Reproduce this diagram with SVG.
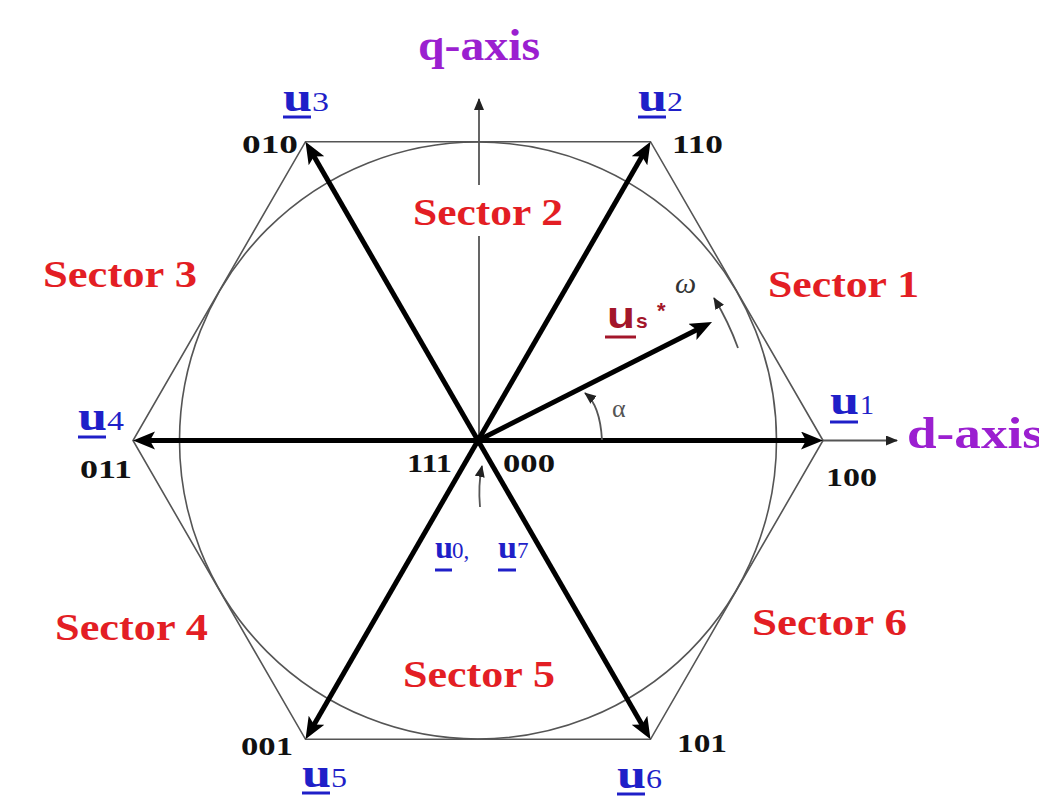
<svg xmlns="http://www.w3.org/2000/svg" width="1039" height="805" viewBox="0 0 1039 805">
<style>
.hex{fill:none;stroke:#555;stroke-width:1.6}
.thin{fill:none;stroke:#555;stroke-width:1.8}
.vec{stroke:#000;stroke-width:5;fill:none}
.code{font-family:"Liberation Serif",serif;font-weight:bold;font-size:26px;fill:#111}
.sec{font-family:"Liberation Serif",serif;font-weight:bold;font-size:38px;fill:#e31e24}
.ax{font-family:"Liberation Serif",serif;font-weight:bold;font-size:44px;fill:#9b1fd0}
.u{font-family:"Liberation Serif",serif;font-weight:bold;font-size:41px;fill:#1f1fc8}
.d{font-family:"Liberation Serif",serif;font-size:28px;fill:#1f1fc8}
.ul{stroke:#1f1fc8;stroke-width:3}
</style>
<defs>
<marker id="ah" markerUnits="userSpaceOnUse" markerWidth="30" markerHeight="20" refX="10" refY="9" orient="auto">
<path d="M0,0 L22,9 L0,18 L5,9 Z" fill="#000"/>
</marker>
<marker id="ahs" markerUnits="userSpaceOnUse" markerWidth="16" markerHeight="12" refX="11" refY="5" orient="auto">
<path d="M0,0 L12,5 L0,10 Z" fill="#222"/>
</marker>
</defs>
<rect width="1039" height="805" fill="#fff"/>

<g id="frame">
<polygon class="hex" points="823,440.5 650.5,141.7 305.5,141.7 133,440.5 305.5,739.3 650.5,739.3"/>
<circle class="hex" cx="478" cy="440.5" r="298.5"/>
</g>

<g id="connectors">
<line class="thin" x1="479" y1="440" x2="479" y2="236"/>
<line class="thin" x1="479" y1="185" x2="479" y2="99" marker-end="url(#ahs)"/>
<line class="thin" x1="823" y1="440.5" x2="897" y2="440.5" marker-end="url(#ahs)"/>
<line class="vec" x1="478" y1="440.5" x2="811" y2="440.5" marker-end="url(#ah)"/>
<line class="vec" x1="478" y1="440.5" x2="644.5" y2="152.1" marker-end="url(#ah)"/>
<line class="vec" x1="478" y1="440.5" x2="311.5" y2="152.1" marker-end="url(#ah)"/>
<line class="vec" x1="478" y1="440.5" x2="145" y2="440.5" marker-end="url(#ah)"/>
<line class="vec" x1="478" y1="440.5" x2="311.5" y2="728.9" marker-end="url(#ah)"/>
<line class="vec" x1="478" y1="440.5" x2="644.5" y2="728.9" marker-end="url(#ah)"/>
<line class="vec" x1="478" y1="440.5" x2="701.3" y2="327.4" marker-end="url(#ah)"/>
<circle cx="478" cy="440.5" r="5" fill="#000"/>
<path class="thin" d="M602,440 Q600,405 585,393" marker-end="url(#ahs)"/>
<path class="thin" d="M738,348 A276,276 0 0 0 714,298" marker-end="url(#ahs)"/>
<path class="thin" d="M480,507 Q478,485 482,466" marker-end="url(#ahs)"/>
</g>

<g id="axis-labels">
<text class="ax" x="418" y="60" textLength="122" lengthAdjust="spacingAndGlyphs">q-axis</text>
<text class="ax" x="907" y="448" textLength="136" lengthAdjust="spacingAndGlyphs">d-axis</text>
</g>

<g id="sectors">
<text class="sec" x="768" y="297" textLength="151" lengthAdjust="spacingAndGlyphs">Sector 1</text>
<text class="sec" x="413" y="225" textLength="150" lengthAdjust="spacingAndGlyphs">Sector 2</text>
<text class="sec" x="43" y="287" textLength="154" lengthAdjust="spacingAndGlyphs">Sector 3</text>
<text class="sec" x="55" y="640" textLength="153" lengthAdjust="spacingAndGlyphs">Sector 4</text>
<text class="sec" x="403" y="687" textLength="152" lengthAdjust="spacingAndGlyphs">Sector 5</text>
<text class="sec" x="752" y="635" textLength="155" lengthAdjust="spacingAndGlyphs">Sector 6</text>
</g>

<g id="codes">
<text class="code" x="242" y="153" textLength="56" lengthAdjust="spacingAndGlyphs">010</text>
<text class="code" x="672" y="153" textLength="51" lengthAdjust="spacingAndGlyphs">110</text>
<text class="code" x="826" y="486" textLength="51" lengthAdjust="spacingAndGlyphs">100</text>
<text class="code" x="80" y="478" textLength="52" lengthAdjust="spacingAndGlyphs">011</text>
<text class="code" x="407" y="472" textLength="45" lengthAdjust="spacingAndGlyphs">111</text>
<text class="code" x="503" y="472" textLength="52" lengthAdjust="spacingAndGlyphs">000</text>
<text class="code" x="241" y="755" textLength="52" lengthAdjust="spacingAndGlyphs">001</text>
<text class="code" x="677" y="752" textLength="50" lengthAdjust="spacingAndGlyphs">101</text>
</g>

<g id="u3">
<text class="u" x="283" y="111" textLength="29" lengthAdjust="spacingAndGlyphs">u</text>
<line class="ul" x1="283" y1="117" x2="311" y2="117"/>
<text class="d" x="312" y="111" textLength="17" lengthAdjust="spacingAndGlyphs">3</text>
</g>
<g id="u2">
<text class="u" x="638" y="111" textLength="29" lengthAdjust="spacingAndGlyphs">u</text>
<line class="ul" x1="638" y1="117" x2="666" y2="117"/>
<text class="d" x="667" y="111" textLength="16" lengthAdjust="spacingAndGlyphs">2</text>
</g>
<g id="u1">
<text class="u" x="830" y="414" textLength="29" lengthAdjust="spacingAndGlyphs">u</text>
<line class="ul" x1="830" y1="422" x2="858" y2="422"/>
<text class="d" x="860" y="414" textLength="14" lengthAdjust="spacingAndGlyphs">1</text>
</g>
<g id="u4">
<text class="u" x="78" y="430" textLength="29" lengthAdjust="spacingAndGlyphs">u</text>
<line class="ul" x1="78" y1="437" x2="106" y2="437"/>
<text class="d" x="107" y="430" textLength="17" lengthAdjust="spacingAndGlyphs">4</text>
</g>
<g id="u5">
<text class="u" x="302" y="787" textLength="29" lengthAdjust="spacingAndGlyphs">u</text>
<line class="ul" x1="302" y1="793" x2="330" y2="793"/>
<text class="d" x="331" y="787" textLength="16" lengthAdjust="spacingAndGlyphs">5</text>
</g>
<g id="u6">
<text class="u" x="617" y="788" textLength="29" lengthAdjust="spacingAndGlyphs">u</text>
<line class="ul" x1="617" y1="794" x2="645" y2="794"/>
<text class="d" x="646" y="788" textLength="16" lengthAdjust="spacingAndGlyphs">6</text>
</g>
<g id="u0u7">
<text class="u" x="435" y="558" style="font-size:32px" textLength="18" lengthAdjust="spacingAndGlyphs">u</text>
<line class="ul" x1="435" y1="570" x2="452" y2="570" stroke-width="2.5"/>
<text class="d" x="452" y="558" style="font-size:23px">0,</text>
<text class="u" x="498" y="558" style="font-size:32px" textLength="19" lengthAdjust="spacingAndGlyphs">u</text>
<line class="ul" x1="498" y1="570" x2="516" y2="570" stroke-width="2.5"/>
<text class="d" x="517" y="558" style="font-size:23px">7</text>
</g>

<g id="us">
<text x="607" y="328" font-family="Liberation Sans, sans-serif" font-weight="bold" font-size="37" fill="#a3162a" textLength="28" lengthAdjust="spacingAndGlyphs">u</text>
<line x1="605" y1="337" x2="636" y2="337" stroke="#a3162a" stroke-width="3"/>
<text x="636" y="328" font-family="Liberation Sans, sans-serif" font-weight="bold" font-size="21" fill="#a3162a">s</text>
<text x="657" y="318" font-family="Liberation Sans, sans-serif" font-weight="bold" font-size="22" fill="#a3162a">*</text>
<text x="675" y="293" font-family="Liberation Serif, serif" font-style="italic" font-size="30" fill="#333">ω</text>
<text x="612" y="417" font-family="Liberation Serif, serif" font-size="26" fill="#555">α</text>
</g>
</svg>
